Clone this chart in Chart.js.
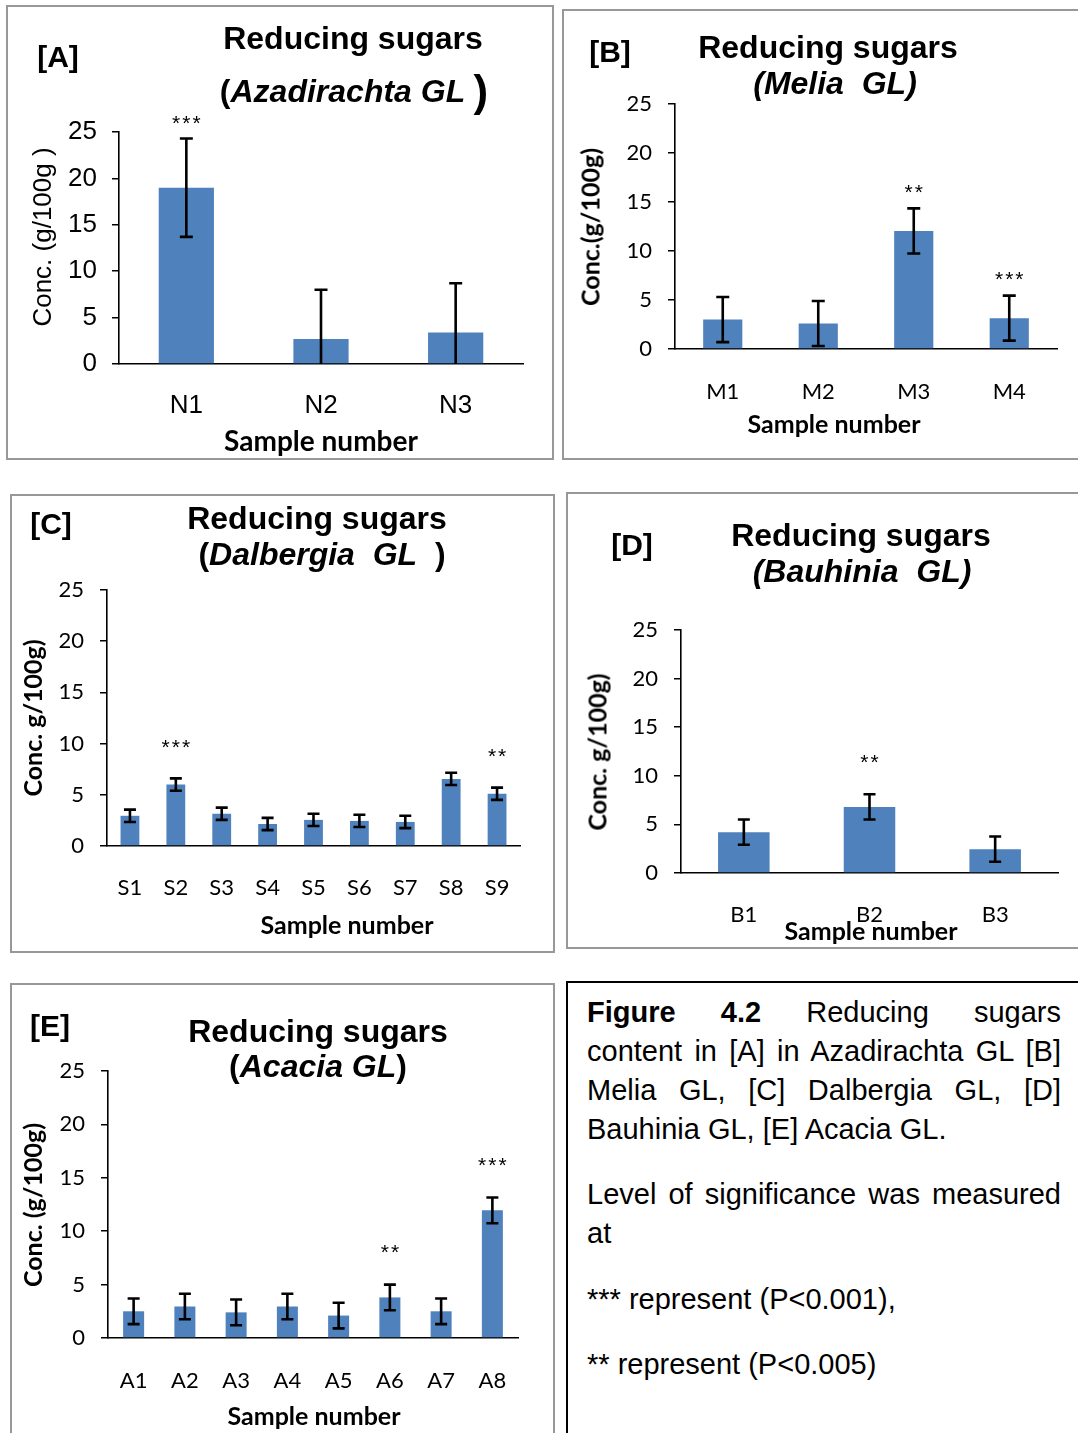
<!DOCTYPE html>
<html>
<head>
<meta charset="utf-8">
<title>Reducing sugars</title>
<script src="https://cdn.jsdelivr.net/npm/chart.js@4.4.1/dist/chart.umd.min.js"></script>
<style>
  html, body { margin: 0; padding: 0; background: #fff; }
  #page { position: relative; width: 1078px; height: 1433px; overflow: hidden; background: #fff; }
  .frame { position: absolute; box-sizing: border-box; border: 2px solid #989898; }
  .frame.dark { border-color: #000; }
  .txt { position: absolute; white-space: nowrap; transform: translate(-50%, -50%); color: #000; line-height: 1; }
  .rot { transform: translate(-50%, -50%) rotate(-90deg); }
  .arial { font-family: "Liberation Sans", Arial, sans-serif; }
  .cal { font-family: Lato, "Open Sans", sans-serif; }
  .axt { font-size: 25px; font-weight: bold; }
  .head { font: bold 32px "Liberation Sans", Arial, sans-serif; }
  .tag { font: bold 30px "Liberation Sans", Arial, sans-serif; }
  canvas { position: absolute; }
  .note { position: absolute; left: 587px; width: 474px; height: 39px; line-height: 39px;
          font: 29px "Liberation Sans", Arial, sans-serif; color: #000; white-space: nowrap; }
  .just { white-space: normal; text-align: justify; text-align-last: justify; }
</style>
</head>
<body>
<div id="page">
  <!-- panel frames -->
  <div class="frame" style="left:6px;top:5px;width:548px;height:455px"></div>
  <div class="frame" style="left:562px;top:9px;width:530px;height:451px"></div>
  <div class="frame" style="left:10px;top:494px;width:545px;height:459px"></div>
  <div class="frame" style="left:566px;top:492px;width:530px;height:457px"></div>
  <div class="frame" style="left:10px;top:983px;width:545px;height:470px"></div>
  <div class="frame dark" style="left:566px;top:981px;width:530px;height:470px"></div>

  <canvas id="cA"></canvas>
  <canvas id="cB"></canvas>
  <canvas id="cC"></canvas>
  <canvas id="cD"></canvas>
  <canvas id="cE"></canvas>

  <!-- [A] Azadirachta -->
  <div class="txt tag" style="left:58px;top:57px">[A]</div>
  <div class="txt head" style="left:353px;top:38px">Reducing sugars</div>
  <div class="txt head" style="left:354px;top:91px">(<i>Azadirachta GL </i><span style="font-size:44px;vertical-align:-4px">)</span></div>
  <div class="txt rot arial" style="left:42px;top:237px;font-size:26px">Conc. (g/100g )</div>
  <div class="txt cal" style="left:321px;top:440px;font-size:28px;font-weight:bold">Sample number</div>

  <!-- [B] Melia -->
  <div class="txt tag" style="left:610px;top:52px">[B]</div>
  <div class="txt head" style="left:828px;top:47px">Reducing sugars</div>
  <div class="txt head" style="left:835px;top:83px"><i>(Melia&nbsp; GL)</i></div>
  <div class="txt rot cal axt" style="left:590px;top:227px">Conc.(g/100g)</div>
  <div class="txt cal axt" style="left:834px;top:423px">Sample number</div>

  <!-- [C] Dalbergia -->
  <div class="txt tag" style="left:51px;top:524px">[C]</div>
  <div class="txt head" style="left:317px;top:518px">Reducing sugars</div>
  <div class="txt head" style="left:322px;top:554px">(<i>Dalbergia&nbsp; GL&nbsp; </i>)</div>
  <div class="txt rot cal axt" style="left:32px;top:718px">Conc. g/100g)</div>
  <div class="txt cal axt" style="left:347px;top:924px">Sample number</div>

  <!-- [D] Bauhinia -->
  <div class="txt tag" style="left:632px;top:545px">[D]</div>
  <div class="txt head" style="left:861px;top:535px">Reducing sugars</div>
  <div class="txt head" style="left:862px;top:571px"><i>(Bauhinia&nbsp; GL)</i></div>
  <div class="txt rot cal axt" style="left:597px;top:752px">Conc. g/100g)</div>

  <!-- [E] Acacia -->
  <div class="txt tag" style="left:50px;top:1026px">[E]</div>
  <div class="txt head" style="left:318px;top:1031px">Reducing sugars</div>
  <div class="txt head" style="left:318px;top:1066px">(<i>Acacia GL</i>)</div>
  <div class="txt rot cal axt" style="left:32px;top:1205px">Conc. (g/100g)</div>
  <div class="txt cal axt" style="left:314px;top:1415px">Sample number</div>

  <!-- figure caption -->
  <div class="note just" style="top:996px"><b>Figure 4.2</b> Reducing sugars</div>
  <div class="note just" style="top:1035px">content in [A] in Azadirachta GL [B]</div>
  <div class="note just" style="top:1074px">Melia GL, [C] Dalbergia GL, [D]</div>
  <div class="note" style="top:1113px">Bauhinia GL, [E] Acacia GL.</div>
  <div class="note just" style="top:1178px">Level of significance was measured</div>
  <div class="note" style="top:1217px">at</div>
  <div class="note" style="top:1283px">*** represent (P&lt;0.001),</div>
  <div class="note" style="top:1348px">** represent (P&lt;0.005)</div>

  <!-- drawn after the charts so it sits on top of panel D's x labels -->
  <div class="txt cal axt" style="left:871px;top:930px">Sample number</div>
</div>

<script>
// ---- data (g/100g, mean and error) ----
const yTicks = [0, 5, 10, 15, 20, 25];

const catsA = ['N1', 'N2', 'N3'];
const valsA = [19.0, 2.7, 3.4];
const errA  = [5.3, 5.3, 5.3];
const sigA  = ['***', '', ''];

const catsB = ['M1', 'M2', 'M3', 'M4'];
const valsB = [3.0, 2.6, 12.05, 3.15];
const errB  = [2.3, 2.3, 2.3, 2.3];
const sigB  = ['', '', '**', '***'];

const catsC = ['S1', 'S2', 'S3', 'S4', 'S5', 'S6', 'S7', 'S8', 'S9'];
const valsC = [2.95, 6.0, 3.15, 2.15, 2.55, 2.45, 2.35, 6.55, 5.1];
const errC  = [0.6, 0.6, 0.6, 0.6, 0.6, 0.6, 0.6, 0.6, 0.6];
const sigC  = ['', '***', '', '', '', '', '', '', '**'];

const catsD = ['B1', 'B2', 'B3'];
const valsD = [4.2, 6.8, 2.45];
const errD  = [1.3, 1.3, 1.3];
const sigD  = ['', '**', ''];

const catsE = ['A1', 'A2', 'A3', 'A4', 'A5', 'A6', 'A7', 'A8'];
const valsE = [2.5, 2.95, 2.4, 2.95, 2.1, 3.8, 2.5, 11.95];
const errE  = [1.2, 1.2, 1.2, 1.2, 1.2, 1.2, 1.2, 1.2];
const sigE  = ['', '', '', '', '', '**', '', '***'];

// error bars and significance marks, placed with the chart's own scales
const errorBarPlugin = {
  id: 'errorBars',
  afterDatasetsDraw(chart, args, opts) {
    const { ctx, scales: { y } } = chart;
    chart.data.datasets.forEach((ds, di) => {
      const meta = chart.getDatasetMeta(di);
      meta.data.forEach((bar, i) => {
        const v = ds.data[i], e = ds.errorBars[i];
        const hi = y.getPixelForValue(v + e);
        const lowVal = v - e;
        const lo = y.getPixelForValue(Math.max(lowVal, y.min));
        const half = opts.cap / 2;
        ctx.save();
        ctx.strokeStyle = '#000';
        ctx.lineWidth = opts.width;
        ctx.beginPath();
        ctx.moveTo(bar.x, hi); ctx.lineTo(bar.x, lo);
        ctx.moveTo(bar.x - half, hi); ctx.lineTo(bar.x + half, hi);
        if (lowVal >= y.min) { ctx.moveTo(bar.x - half, lo); ctx.lineTo(bar.x + half, lo); }
        ctx.stroke();
        const mark = ds.marks[i];
        if (mark) {
          ctx.fillStyle = '#000';
          ctx.font = opts.markFont;
          ctx.letterSpacing = '2px';
          ctx.textAlign = 'center';
          ctx.textBaseline = 'middle';
          ctx.fillText(mark, bar.x + 1, hi - opts.markGap);
        }
        ctx.restore();
      });
    });
  }
};

function panelChart(id, box, area, cats, vals, errs, sig, st) {
  const cv = document.getElementById(id);
  cv.width = box.w; cv.height = box.h;
  cv.style.left = box.x + 'px'; cv.style.top = box.y + 'px';
  cv.style.width = box.w + 'px'; cv.style.height = box.h + 'px';
  const yW = area.l - box.x;
  const xH = box.y + box.h - area.b;
  return new Chart(cv, {
    type: 'bar',
    data: {
      labels: cats,
      datasets: [{
        data: vals,
        backgroundColor: '#4F81BD',
        borderWidth: 0,
        barPercentage: 0.41,
        categoryPercentage: 1,
        errorBars: errs,
        marks: sig
      }]
    },
    options: {
      responsive: false,
      animation: false,
      devicePixelRatio: 1,
      layout: { padding: { left: 0, top: area.t - box.y, right: box.x + box.w - area.r, bottom: 0 } },
      plugins: {
        legend: { display: false },
        tooltip: { enabled: false },
        errorBars: { width: 2.6, cap: st.cap, markFont: st.markFont, markGap: st.markGap }
      },
      scales: {
        x: {
          grid: { display: false, drawTicks: false },
          border: { display: true, color: '#000', width: 1.6 },
          ticks: { font: st.tickFont, color: '#000', padding: st.xPad, maxRotation: 0, autoSkip: false },
          afterFit(s) { s.height = xH; }
        },
        y: {
          min: 0, max: 25,
          afterBuildTicks(s) { s.ticks = yTicks.map(v => ({ value: v })); },
          grid: { drawOnChartArea: false, drawTicks: true, tickLength: 7, color: '#000', lineWidth: 1.5 },
          border: { display: true, color: '#000', width: 1.6 },
          ticks: { font: st.tickFont, color: '#000', padding: st.yPad },
          afterFit(s) { s.width = yW; }
        }
      }
    },
    plugins: [errorBarPlugin]
  });
}

const arialTicks = { family: '"Liberation Sans", Arial, sans-serif', size: 26 };
const calTicks = { family: 'Lato, "Open Sans", sans-serif', size: 22 };
const markFont = '21px "Liberation Sans", Arial, sans-serif';

panelChart('cA', { x: 8, y: 7, w: 544, h: 451 }, { l: 119, r: 523, t: 132, b: 364 },
  catsA, valsA, errA, sigA, { tickFont: arialTicks, xPad: 26, yPad: 15, cap: 13, markFont, markGap: 14 });
panelChart('cB', { x: 564, y: 11, w: 514, h: 447 }, { l: 675, r: 1057, t: 104, b: 349 },
  catsB, valsB, errB, sigB, { tickFont: calTicks, xPad: 30, yPad: 16, cap: 13, markFont, markGap: 15 });
panelChart('cC', { x: 12, y: 496, w: 541, h: 455 }, { l: 107, r: 520, t: 590, b: 846 },
  catsC, valsC, errC, sigC, { tickFont: calTicks, xPad: 29, yPad: 16, cap: 12, markFont, markGap: 30 });
panelChart('cD', { x: 568, y: 494, w: 510, h: 453 }, { l: 681, r: 1058, t: 630, b: 873 },
  catsD, valsD, errD, sigD, { tickFont: calTicks, xPad: 29, yPad: 16, cap: 12, markFont, markGap: 31 });
panelChart('cE', { x: 12, y: 985, w: 541, h: 448 }, { l: 108, r: 518, t: 1071, b: 1338 },
  catsE, valsE, errE, sigE, { tickFont: calTicks, xPad: 30, yPad: 16, cap: 12, markFont, markGap: 31 });
</script>
</body>
</html>
